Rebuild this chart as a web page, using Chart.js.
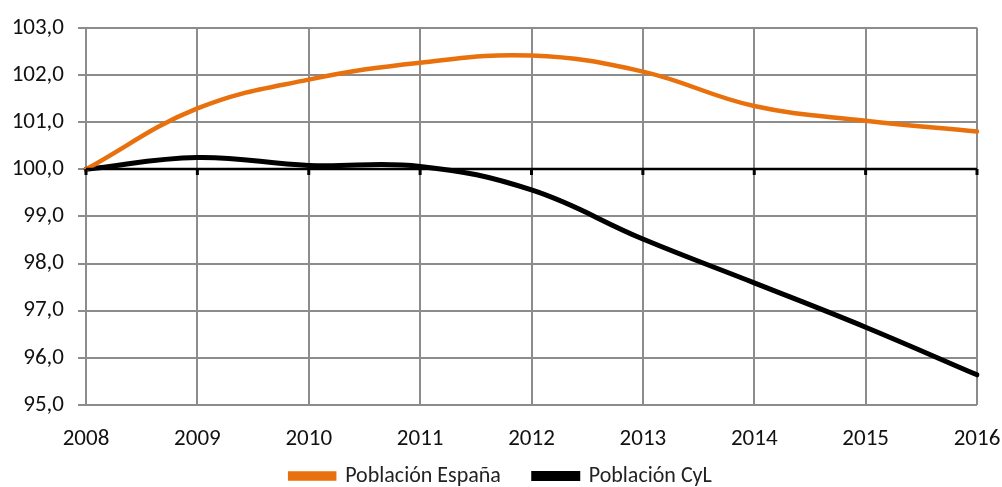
<!DOCTYPE html>
<html>
<head>
<meta charset="utf-8">
<script src="https://cdn.jsdelivr.net/npm/chart.js@4"></script>
<style>
  html, body { margin: 0; padding: 0; background: #fff; }
  #wrap { width: 1002px; height: 487px; }
</style>
</head>
<body>
<div id="wrap"><canvas id="chart" width="1002" height="487"></canvas></div>
<script>
// Data
const years = ['2008', '2009', '2010', '2011', '2012', '2013', '2014', '2015', '2016'];
const poblacionEspana = [100.0, 101.29, 101.9, 102.26, 102.41, 102.07, 101.34, 101.03, 100.8];
const poblacionCyL = [100.0, 100.25, 100.08, 100.06, 99.56, 98.52, 97.59, 96.65, 95.64];
const yTicks = [95, 96, 97, 98, 99, 100, 101, 102, 103];

const FONT = "Carlito, Lato, 'Liberation Sans', sans-serif";

// black axis line at 100 with small tick marks under each year
const baseAxis = {
  id: 'baseAxis',
  afterDatasetsDraw(chart) {
    const {ctx, scales: {x, y}} = chart;
    const py = Math.round(y.getPixelForValue(100));
    ctx.save();
    ctx.strokeStyle = '#000';
    ctx.lineWidth = 2.5;
    ctx.beginPath();
    ctx.moveTo(x.left, py);
    ctx.lineTo(x.right, py);
    ctx.stroke();
    ctx.lineWidth = 3;
    x.ticks.forEach((t, i) => {
      const px = x.getPixelForTick(i);
      ctx.beginPath();
      ctx.moveTo(px, py);
      ctx.lineTo(px, py + 6);
      ctx.stroke();
    });
    ctx.restore();
  }
};

new Chart(document.getElementById('chart'), {
  type: 'line',
  data: {
    labels: years,
    datasets: [
      {
        label: 'Población España',
        data: poblacionEspana,
        borderColor: '#E8710E',
        backgroundColor: '#E8710E',
        borderWidth: 4.5,
        pointRadius: 0,
        tension: 0.4,
        borderCapStyle: 'round'
      },
      {
        label: 'Población CyL',
        data: poblacionCyL,
        borderColor: '#000000',
        backgroundColor: '#000000',
        borderWidth: 5,
        pointRadius: 0,
        tension: 0.4,
        borderCapStyle: 'round'
      }
    ]
  },
  options: {
    responsive: false,
    animation: false,
    layout: { padding: { top: 24, right: 0, left: 0, bottom: -10 } },
    plugins: {
      legend: {
        position: 'bottom',
        labels: {
          font: { family: FONT, size: 22 },
          color: '#222',
          boxWidth: 44,
          boxHeight: 5,
          padding: 8,
          generateLabels: (chart) => {
            const items = Chart.defaults.plugins.legend.labels.generateLabels(chart);
            // extra room after the first entry, like the original legend spacing
            if (items.length) items[0].text = items[0].text + '     ';
            return items;
          }
        }
      },
      tooltip: { enabled: false }
    },
    scales: {
      x: {
        offset: false,
        afterFit: (s) => { s.height = 52; s.paddingRight = 25; s.paddingLeft = 0; },
        grid: { color: '#8c8c8c', lineWidth: 2, tickLength: 0, drawTicks: false },
        border: { display: false },
        ticks: { font: { family: FONT, size: 23 }, color: '#111', padding: 20, maxRotation: 0 }
      },
      y: {
        min: 95,
        max: 103,
        afterBuildTicks: (s) => { s.ticks = yTicks.map(v => ({value: v})); },
        afterFit: (s) => { s.width = 86; },
        grid: { color: '#8c8c8c', lineWidth: 2, tickLength: 8 },
        border: { display: false },
        ticks: {
          font: { family: FONT, size: 23 },
          color: '#111',
          padding: 14,
          callback: (v) => v.toFixed(1).replace('.', ',')
        }
      }
    }
  },
  plugins: [baseAxis]
});
</script>
</body>
</html>
